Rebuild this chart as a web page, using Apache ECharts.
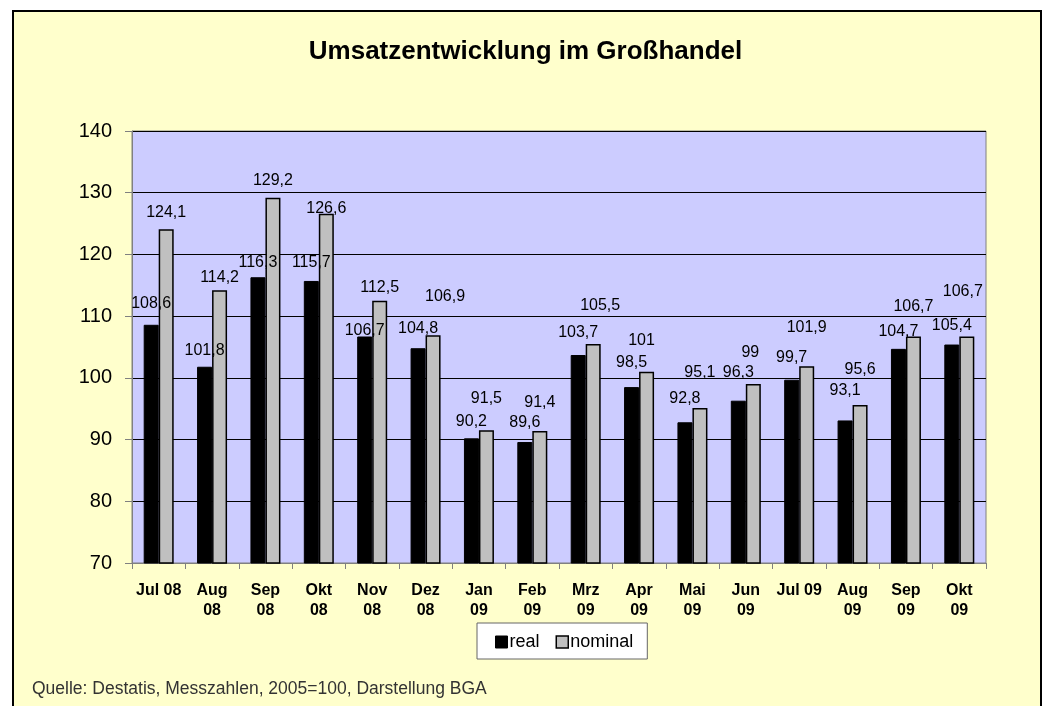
<!DOCTYPE html>
<html>
<head>
<meta charset="utf-8">
<script src="https://cdn.jsdelivr.net/npm/echarts@6/dist/echarts.min.js"></script>
<style>
html,body{margin:0;padding:0;background:#fff;width:1051px;height:706px;overflow:hidden;}
#bg{position:absolute;left:12px;top:10px;width:1030px;height:720px;border:2px solid #000;background:#FFFFCC;box-sizing:border-box;}
#chart{position:absolute;left:0;top:0;width:1051px;height:706px;}
</style>
</head>
<body>
<div id="bg"></div>
<div id="chart"></div>
<script>
// ---- data ----
const categories = ["Jul 08","Aug\n08","Sep\n08","Okt\n08","Nov\n08","Dez\n08","Jan\n09","Feb\n09","Mrz\n09","Apr\n09","Mai\n09","Jun\n09","Jul 09","Aug\n09","Sep\n09","Okt\n09"];
const realValues = [108.6,101.8,116.3,115.7,106.7,104.8,90.2,89.6,103.7,98.5,92.8,96.3,99.7,93.1,104.7,105.4];
const nominalValues = [124.1,114.2,129.2,126.6,112.5,106.9,91.5,91.4,105.5,101,95.1,99,101.9,95.6,106.7,106.7];
const yTicks = [70,80,90,100,110,120,130,140];

// label placement (style only): lift of label centre above bar top, px
const realLabelLift = [22,17,16,19,7,21,18,20,23,26,25,29,23,31,18,20];
const nominalLabelLift = [18,14,18,6,14,40,33,29,39,32,37,32,40,36,31,46];
const nominalLabelShift = [0,0,0,0,0,12,0,0,7,-5,0,-3,0,0,0,-4];

const fmt = v => String(v).replace('.', ',');
const FONT = 'Liberation Sans, Arial, sans-serif';

const chart = echarts.init(document.getElementById('chart'), null, {renderer:'canvas'});
const labelBase = {show:true, position:'top', color:'#000', fontFamily:FONT, fontSize:16, formatter:p=>fmt(p.value)};

chart.setOption({
  backgroundColor:'transparent',
  animation:false,
  title:{
    text:'Umsatzentwicklung im Großhandel',
    left:'center', top:34,
    textStyle:{fontFamily:FONT, fontSize:26, fontWeight:'bold', color:'#000'}
  },
  grid:{left:132, right:65, top:131, bottom:143, show:true, backgroundColor:'#CCCCFF', borderColor:'#808080', borderWidth:1},
  legend:{
    data:[
      {name:'real', itemStyle:{color:'#000', borderColor:'#000', borderWidth:1}},
      {name:'nominal', itemStyle:{color:'#C0C0C0', borderColor:'#000', borderWidth:1.5}}
    ],
    icon:'rect',
    left:477, top:623, width:176, height:39,
    padding:[10,14,8,18],
    backgroundColor:'#fff', borderColor:'#666', borderWidth:1,
    itemWidth:12, itemHeight:12, itemGap:16,
    textStyle:{fontFamily:FONT, fontSize:18, color:'#000', padding:[0,0,0,-3]}
  },
  xAxis:{
    type:'category', data:categories,
    axisLine:{lineStyle:{color:'#808080', width:1}},
    axisTick:{show:true, length:6, lineStyle:{color:'#808080'}},
    axisLabel:{interval:0, margin:18, fontFamily:FONT, fontSize:16, fontWeight:'bold', color:'#000', lineHeight:20}
  },
  yAxis:{
    type:'value', min:yTicks[0], max:yTicks[yTicks.length-1], interval:10,
    axisLine:{show:true, lineStyle:{color:'#808080'}},
    axisTick:{show:true, length:7, lineStyle:{color:'#808080'}},
    axisLabel:{margin:20, fontFamily:FONT, fontSize:20, color:'#000'},
    splitLine:{show:true, lineStyle:{color:'#000', width:1}}
  },
  series:[
    {
      name:'real', type:'bar', barWidth:15, barGap:'0%',
      itemStyle:{color:'#000', borderColor:'#000', borderWidth:1},
      data:realValues.map((v,i)=>({value:v, label:Object.assign({}, labelBase, {distance:realLabelLift[i]-9})}))
    },
    {
      name:'nominal', type:'bar', barWidth:15, barGap:'0%',
      itemStyle:{color:'#C0C0C0', borderColor:'#000', borderWidth:1.5},
      data:nominalValues.map((v,i)=>({value:v, label:Object.assign({}, labelBase, {distance:nominalLabelLift[i]-9, offset:[nominalLabelShift[i],0]})}))
    }
  ],
  graphic:[
    {type:'text', left:32, top:680, style:{text:'Quelle: Destatis, Messzahlen, 2005=100, Darstellung BGA', fontFamily:FONT, fontSize:17.5, fill:'#333'}}
  ]
});
</script>
</body>
</html>
